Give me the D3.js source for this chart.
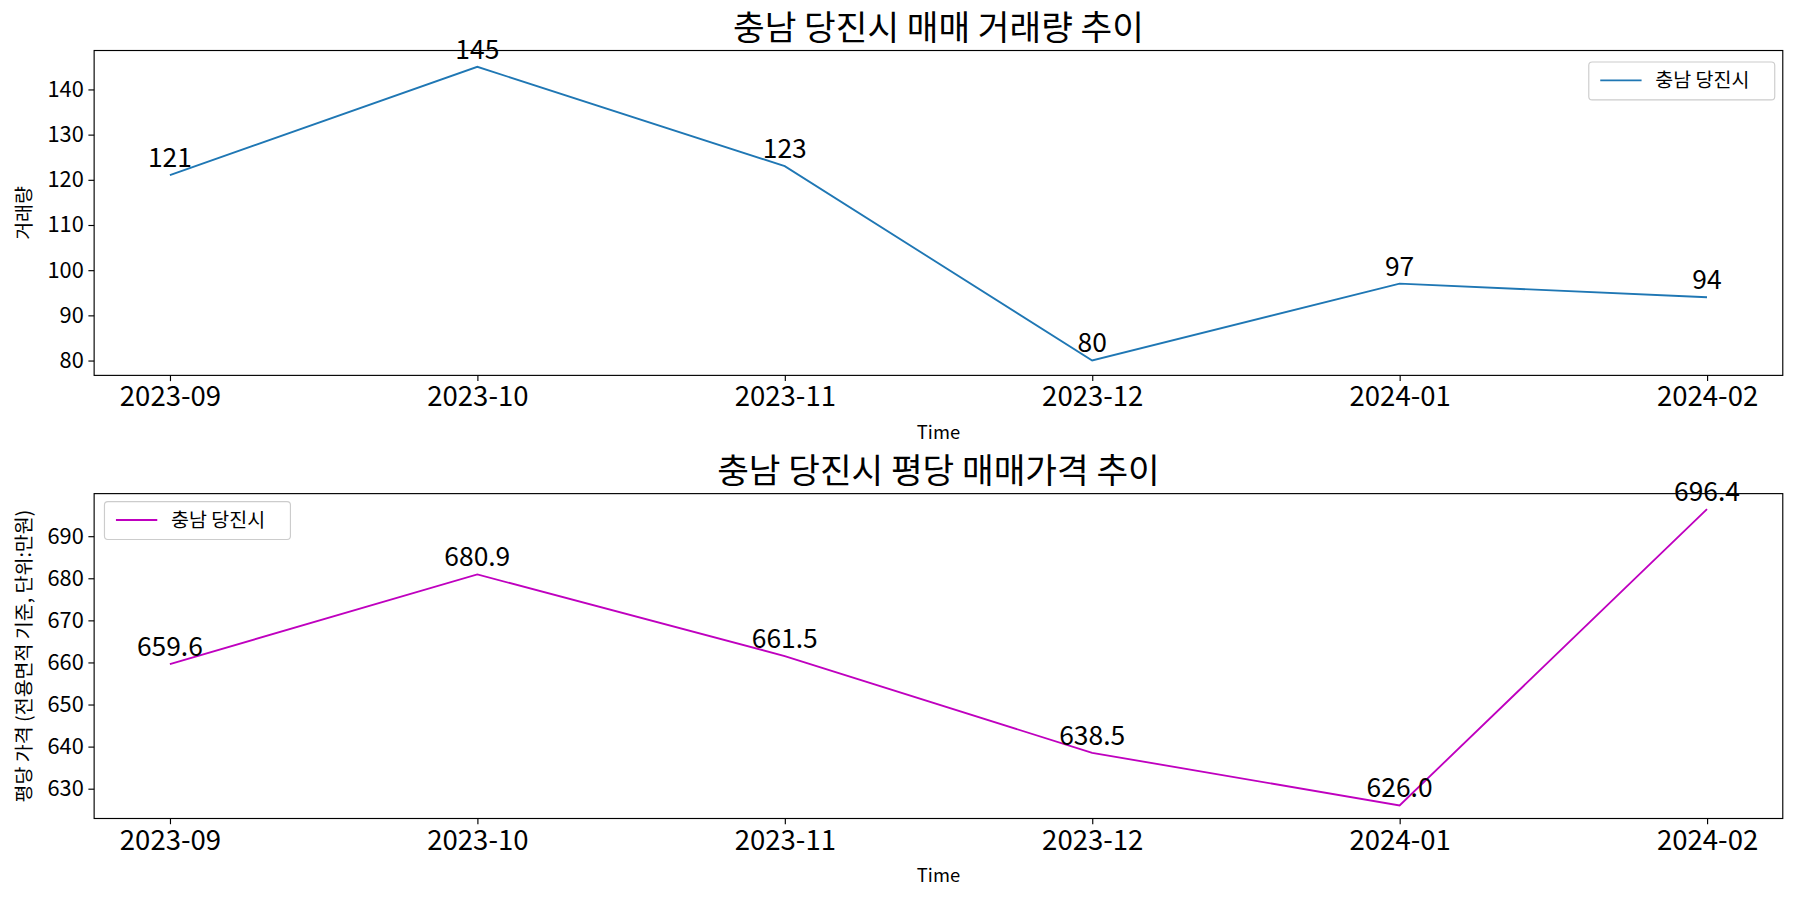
<!DOCTYPE html>
<html><head><meta charset="utf-8">
<script src="https://cdn.jsdelivr.net/npm/d3@7"></script>
<style>body{margin:0;background:#fff}text{font-family:"Noto Sans CJK KR","Noto Sans",sans-serif}</style>
</head><body>
<svg id="c" width="1800" height="900" viewBox="0 0 1568 784"></svg>
<script>
const months = ["2023-09","2023-10","2023-11","2023-12","2024-01","2024-02"];
const volume = [121,145,123,80,97,94];
const price = [659.6,680.9,661.5,638.5,626.0,696.4];
const volTicks = [80,90,100,110,120,130,140];
const priceTicks = [630,640,650,660,670,680,690];

const svg = d3.select("#c");
const L=82,R=1553;
const x = d3.scalePoint().domain(months).range([148,1487]);

function panel(top,bottom,domain,ticks,data,color,title,ylabel,fmt,legendX,legendY){
  const y = d3.scaleLinear().domain(domain).range([bottom,top]);
  const g = svg.append("g");
  g.append("rect").attr("x",L).attr("y",top).attr("width",R-L).attr("height",bottom-top).attr("fill","none").attr("stroke","#000");
  const xa = g.append("g").attr("transform",`translate(0,${bottom})`).call(d3.axisBottom(x).tickSizeOuter(0).tickSize(5).tickPadding(5));
  xa.select(".domain").remove();
  xa.selectAll("text").attr("font-size",24).attr("fill","#000");
  const ya = g.append("g").attr("transform",`translate(${L},0)`).call(d3.axisLeft(y).tickValues(ticks).tickSize(5).tickPadding(4));
  ya.select(".domain").remove();
  ya.selectAll("text").attr("font-size",19).attr("fill","#000");
  g.append("path").datum(data).attr("fill","none").attr("stroke",color).attr("stroke-width",1.6)
    .attr("d",d3.line().x((d,i)=>x(months[i])).y(d=>y(d)));
  g.selectAll(".ann").data(data).enter().append("text").attr("x",(d,i)=>x(months[i])).attr("y",d=>y(d)-7)
    .attr("text-anchor","middle").attr("font-size",23).text(fmt);
  g.append("text").attr("x",(L+R)/2).attr("y",top-9).attr("text-anchor","middle").attr("font-size",30).text(title);
  g.append("text").attr("x",(L+R)/2).attr("y",bottom+55).attr("text-anchor","middle").attr("font-size",16).text("Time");
  g.append("text").attr("transform",`translate(27,${(top+bottom)/2}) rotate(-90)`).attr("text-anchor","middle").attr("font-size",17).text(ylabel);
  const lg = g.append("g").attr("transform",`translate(${legendX},${legendY})`);
  lg.append("rect").attr("width",162).attr("height",33).attr("rx",3).attr("fill","#fff").attr("stroke","#ccc");
  lg.append("line").attr("x1",10).attr("x2",46).attr("y1",16).attr("y2",16).attr("stroke",color).attr("stroke-width",1.6);
  lg.append("text").attr("x",58).attr("y",22).attr("font-size",17).text("충남 당진시");
}
panel(44,327,[76.7,148.6],volTicks,volume,"#1f77b4","충남 당진시 매매 거래량 추이","거래량",d=>d,1384,54);
panel(430,713,[622.9,700.1],priceTicks,price,"#bf00bf","충남 당진시 평당 매매가격 추이","평당 가격 (전용면적 기준, 단위:만원)",d=>d.toFixed(1),91,437);
</script>
</body></html>
